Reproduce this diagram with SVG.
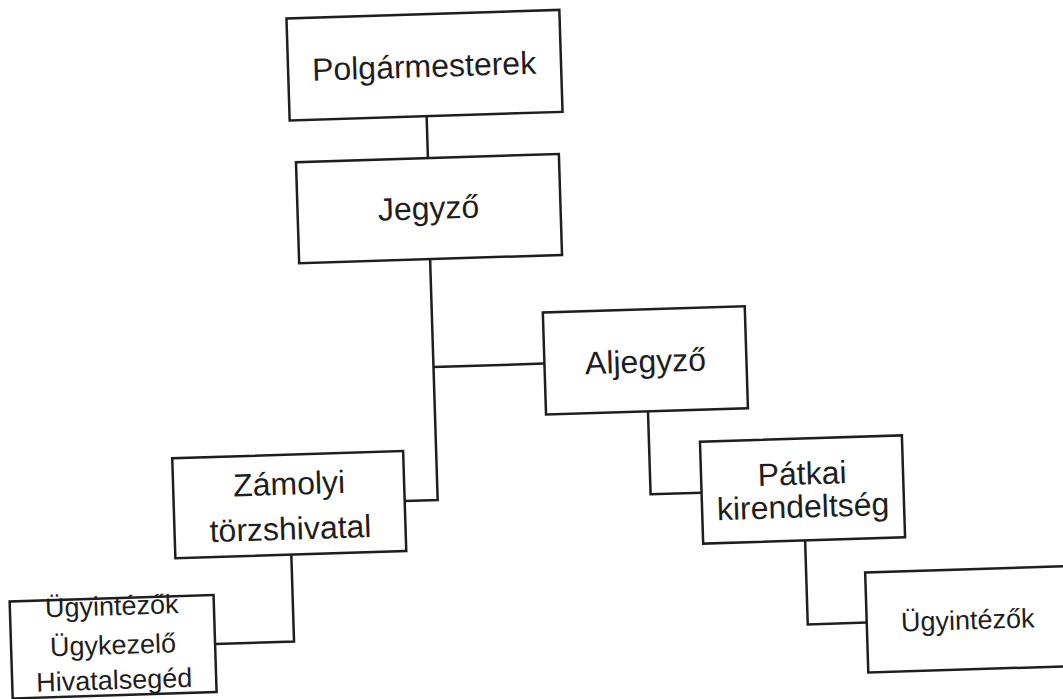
<svg xmlns="http://www.w3.org/2000/svg" width="1063" height="699" viewBox="0 0 1063 699">
<style>
.box{fill:#fff;stroke:#1e1e1e;stroke-width:2.5}
.con{fill:none;stroke:#1e1e1e;stroke-width:2.5}
.t{font-family:"Liberation Sans",Arial,sans-serif;font-size:32px;fill:#1e1e1e;text-anchor:middle}
.s{font-size:27px}
</style>
<rect width="1063" height="699" fill="#fff"/>
<g transform="rotate(-1.8 530 350)">
<g id="connectors">
<path class="con" d="M434 113V155"/>
<path class="con" d="M433 256V497H400"/>
<path class="con" d="M433 364H544"/>
<path class="con" d="M646 415V498H697"/>
<path class="con" d="M799 549V633H858"/>
<path class="con" d="M285 547V634H206"/>
</g>
<g id="polgarmesterek">
<rect class="box" x="297" y="11" width="273" height="102"/>
<text class="t" x="433" y="74">Polgármesterek</text>
</g>
<g id="jegyzo">
<rect class="box" x="302" y="155" width="263" height="101"/>
<text class="t" x="433" y="216">Jegyző</text>
</g>
<g id="aljegyzo">
<rect class="box" x="544" y="313" width="202" height="102"/>
<text class="t" x="645" y="376">Aljegyző</text>
</g>
<g id="zamolyi">
<rect class="box" x="169" y="447" width="231" height="100"/>
<text class="t" x="285" y="487">Zámolyi</text>
<text class="t" x="285" y="532">törzshivatal</text>
</g>
<g id="patkai">
<rect class="box" x="697" y="447" width="202" height="102"/>
<text class="t" x="798" y="493">Pátkai</text>
<text class="t" x="798" y="526">kirendeltség</text>
</g>
<g id="ugyintezok-patka">
<rect class="box" x="858" y="583" width="202" height="100"/>
<text class="t s" x="959" y="643">Ügyintézők</text>
</g>
<g id="ugyintezok-zamoly">
<rect class="box" x="2" y="585" width="204" height="97"/>
<text class="t s" x="104" y="602">Ügyintézők</text>
<text class="t s" x="104" y="641">Ügykezelő</text>
<text class="t s" x="104" y="676">Hivatalsegéd</text>
</g>
</g>
</svg>
